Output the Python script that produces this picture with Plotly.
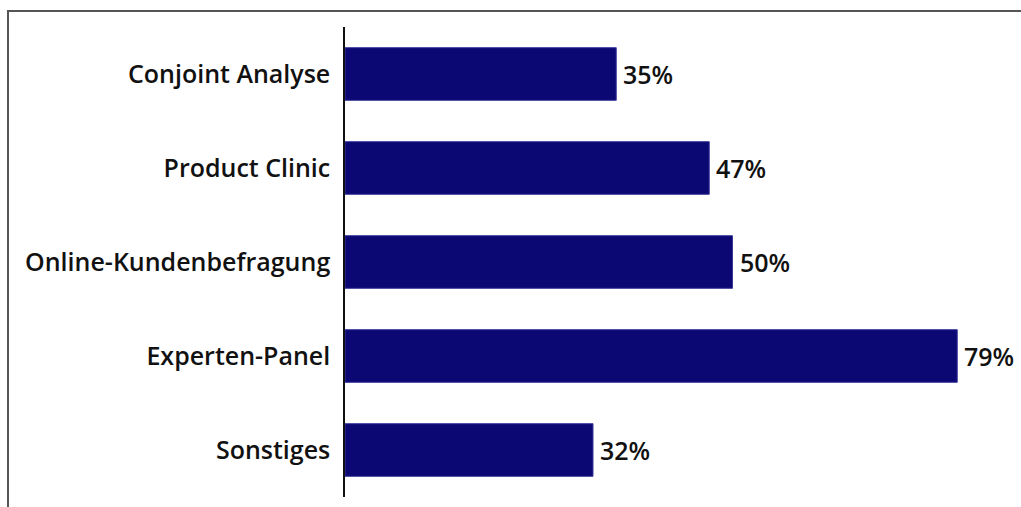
import plotly.graph_objects as go

categories = ["Conjoint Analyse", "Product Clinic", "Online-Kundenbefragung", "Experten-Panel", "Sonstiges"]
values = [35, 47, 50, 79, 32]
value_labels = ["35%", "47%", "50%", "79%", "32%"]

BAR_COLOR = "#0b0773"
FONT = dict(family="Open Sans", size=25, color="#111111", weight=600)

fig = go.Figure()
fig.add_trace(go.Bar(
    y=categories,
    x=values,
    orientation="h",
    width=0.56,
    marker=dict(color=BAR_COLOR, line=dict(color="#3b3a9c", width=1)),
    hoverinfo="skip",
))

for c, v, t in zip(categories, values, value_labels):
    fig.add_annotation(x=v, y=c, text=t, showarrow=False, xanchor="left",
                       yanchor="middle", xshift=5, font=FONT)

fig.add_shape(type="rect", xref="paper", yref="paper",
              x0=(8 - 345) / 676, x1=1.05, y0=-0.1, y1=1 + (27 - 11) / 470,
              line=dict(color="#555555", width=2), fillcolor="rgba(0,0,0,0)",
              layer="below")

fig.update_layout(
    width=1021, height=507,
    margin=dict(l=345, r=0, t=27, b=10),
    paper_bgcolor="white", plot_bgcolor="white",
    showlegend=False,
    font=FONT,
    xaxis=dict(range=[0, 676 / 7.75], visible=False, showgrid=False, zeroline=False),
    yaxis=dict(autorange="reversed", showline=True, linecolor="#111111", linewidth=1.5,
               ticks="", showgrid=False, zeroline=False, tickfont=FONT,
               ticklabelstandoff=8),
)

fig.write_html("out.html")
